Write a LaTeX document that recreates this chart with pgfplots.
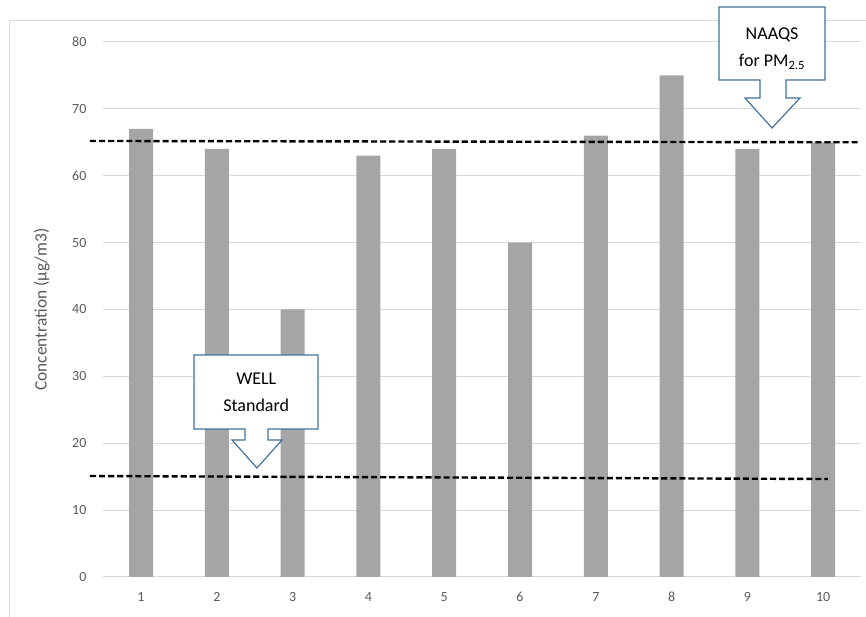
\documentclass[border=0pt]{standalone}
\usepackage{fontspec}
\setmainfont{Carlito}
\usepackage{pgfplots}
\pgfplotsset{compat=1.18}
\definecolor{bargray}{HTML}{A5A5A5}
\definecolor{gridgray}{HTML}{D9D9D9}
\definecolor{txtgray}{HTML}{595959}
\definecolor{callblue}{HTML}{41719C}
\begin{document}
\begin{tikzpicture}
\begin{axis}[
  scale only axis, width=568.5pt, height=401.25pt,
  xmin=0.5, xmax=10.5, ymin=0, ymax=80,
  axis line style={draw=none},
  bar width=18pt,
  xtick={1,...,10}, ytick={0,10,...,80},
  major tick length=0pt,
  ymajorgrids, grid style={gridgray, line width=0.75pt},
  tick label style={font=\fontsize{10.5}{12}\selectfont, text=txtgray},
  yticklabel style={xshift=-9pt},
  xticklabel style={yshift=-8pt},
  /pgf/number format/assume math mode=true,
  ylabel={Concentration (µg/m3)},
  every axis y label/.style={at={(axis description cs:0,0.5)}, xshift=-46pt, rotate=90, anchor=center, font=\fontsize{13}{15}\selectfont, text=txtgray},
  clip=false,
]
% chart area border
\draw[gridgray, line width=0.75pt] (axis cs:-0.741,-6.5) -- (axis cs:-0.741,83.14) -- (axis cs:10.6,83.14);
\addplot[ybar, fill=bargray, draw=none] coordinates {
  (1,67) (2,64) (3,40) (4,63) (5,64) (6,50) (7,66) (8,75) (9,64) (10,65)};
% WELL callout
\draw[callblue, line width=0.9pt, fill=white, line join=miter]
  (axis cs:1.699,33.2) -- (axis cs:3.335,33.2) -- (axis cs:3.335,22.13)
  -- (axis cs:2.675,22.13) -- (axis cs:2.675,20.49) -- (axis cs:2.86,20.49)
  -- (axis cs:2.53,16.3) -- (axis cs:2.20,20.49) -- (axis cs:2.372,20.49)
  -- (axis cs:2.372,22.13) -- (axis cs:1.699,22.13) -- cycle;
\node[font=\fontsize{13.5}{20}\selectfont, align=center, text=black] at (axis cs:2.52,27.6) {WELL\\Standard};
% NAAQS callout
\draw[callblue, line width=0.9pt, fill=white, line join=miter]
  (axis cs:8.625,85.23) -- (axis cs:10.024,85.23) -- (axis cs:10.024,74.32)
  -- (axis cs:9.509,74.32) -- (axis cs:9.509,71.63) -- (axis cs:9.694,71.63)
  -- (axis cs:9.325,67.14) -- (axis cs:8.968,71.63) -- (axis cs:9.166,71.63)
  -- (axis cs:9.166,74.32) -- (axis cs:8.625,74.32) -- cycle;
\node[font=\fontsize{13.5}{20}\selectfont, align=center, text=black] at (axis cs:9.325,79.0) {NAAQS\\for PM\textsubscript{2.5}};
% standard lines
\addplot[black, line width=1.8pt, dash pattern=on 4.6pt off 2.2pt] coordinates {(0.327,65.2) (10.46,65.0)};
\addplot[black, line width=1.8pt, dash pattern=on 4.6pt off 2.2pt] coordinates {(0.327,15.1) (10.06,14.65)};
\coordinate (bbBL) at (axis cs:-0.8602,-5.981);
\coordinate (bbTR) at (axis cs:10.5646,86.28);
\end{axis}
\pgfresetboundingbox
\useasboundingbox (bbBL) rectangle (bbTR);
\end{tikzpicture}
\end{document}
